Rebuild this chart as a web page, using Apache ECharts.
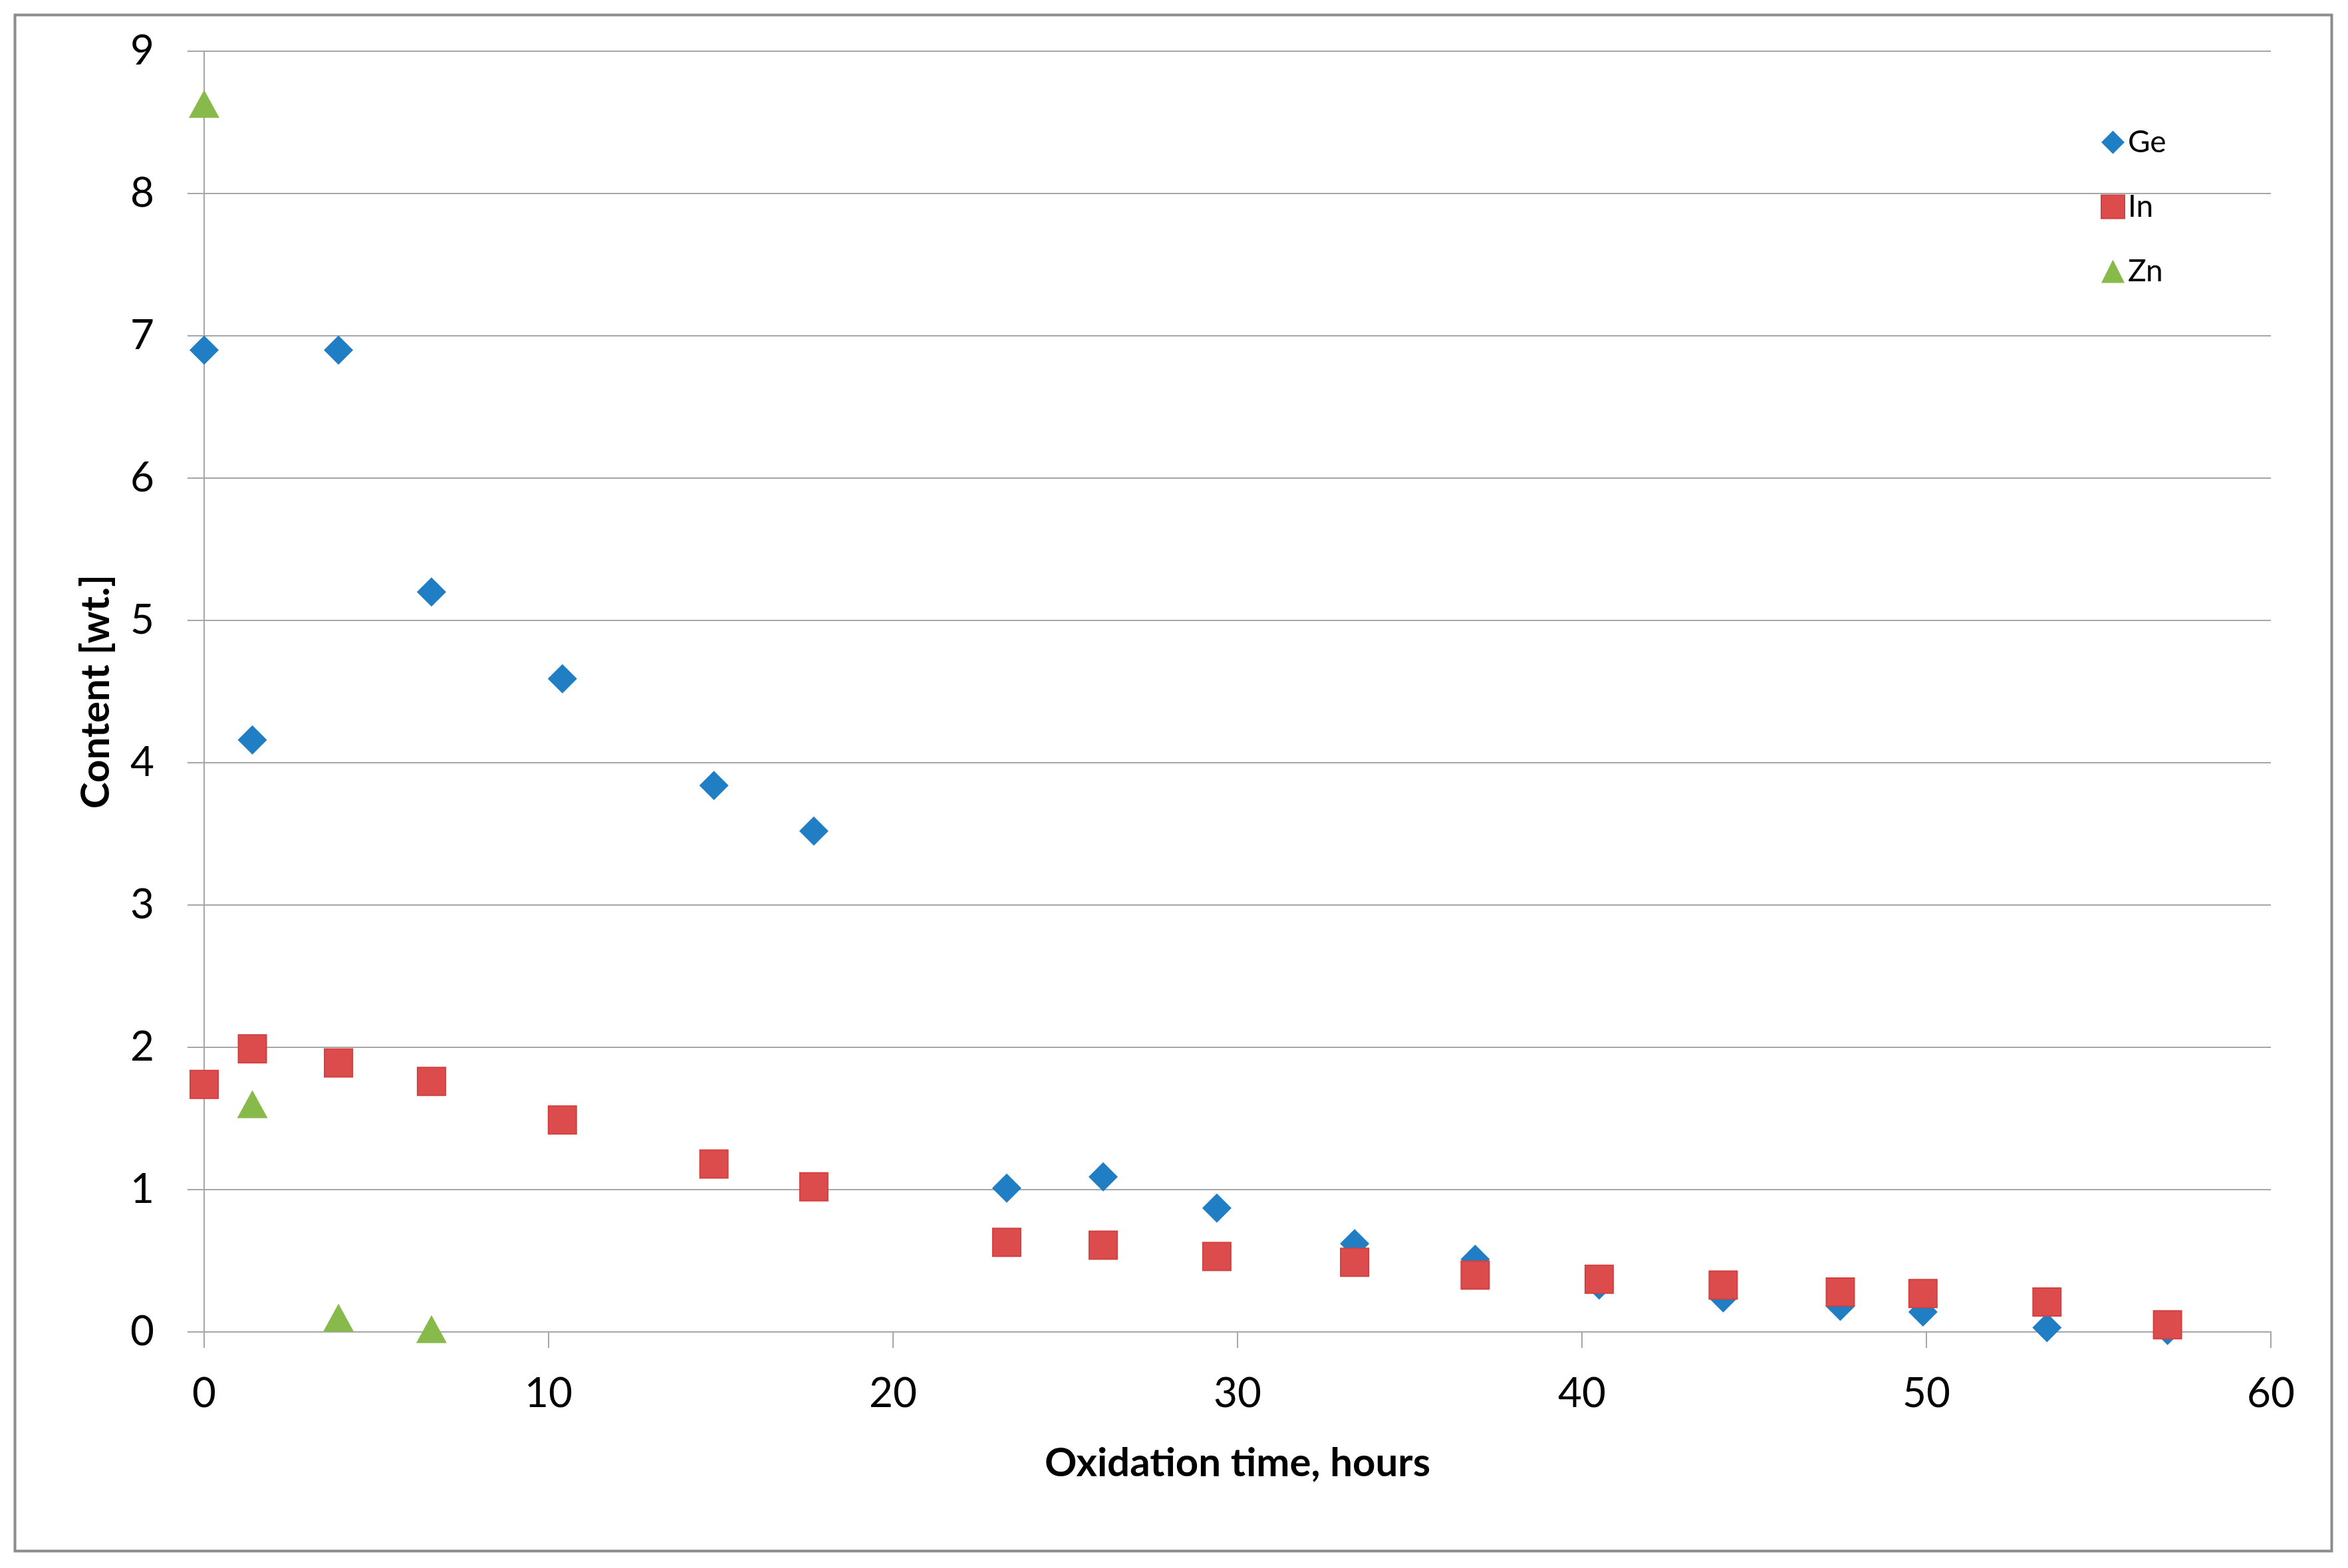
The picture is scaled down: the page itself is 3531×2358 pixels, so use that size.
<!DOCTYPE html>
<html>
<head>
<meta charset="utf-8">
<script src="https://cdn.jsdelivr.net/npm/echarts@6/dist/echarts.min.js"></script>
<style>
html,body{margin:0;padding:0;background:#fff;}
#c{width:3531px;height:2358px;}
</style>
</head>
<body>
<div id="c"></div>
<script>
// Oxidation time, hours
const timeHours = [0, 1.4, 3.9, 6.6, 10.4, 14.8, 17.7, 23.3, 26.1, 29.4, 33.4, 36.9, 40.5, 44.1, 47.5, 49.9, 53.5, 57.0];
const geValues = [6.9, 4.16, 6.9, 5.2, 4.59, 3.84, 3.52, 1.01, 1.09, 0.87, 0.62, 0.51, 0.33, 0.24, 0.18, 0.14, 0.03, 0.01];
const inValues = [1.74, 1.99, 1.89, 1.76, 1.49, 1.18, 1.02, 0.63, 0.61, 0.53, 0.49, 0.40, 0.37, 0.33, 0.28, 0.27, 0.21, 0.05];
const znTimes = [0, 1.4, 3.9, 6.6];
const znValues = [8.63, 1.6, 0.1, 0.02];
const xTicks = [0, 10, 20, 30, 40, 50, 60];
const yTicks = [0, 1, 2, 3, 4, 5, 6, 7, 8, 9];

const pairs = (xs, ys) => xs.map((x, i) => [x, ys[i]]);

const FONT = 'Lato';
const GRID = '#a6a6a6';

const chart = echarts.init(document.getElementById('c'), null, {renderer: 'canvas'});
chart.setOption({
  backgroundColor: '#ffffff',
  animation: false,
  graphic: [{
    type: 'rect',
    left: 20, top: 20,
    shape: {width: 3484, height: 2310},
    style: {fill: 'none', stroke: '#8c8c8c', lineWidth: 4},
    silent: true
  }],
  grid: {left: 307, right: 116, top: 77, bottom: 355, containLabel: false},
  legend: {
    orient: 'vertical',
    left: 3154,
    top: 186,
    itemWidth: 35,
    itemHeight: 35,
    itemGap: 51,
    textStyle: {fontFamily: FONT, fontSize: 46, color: '#000', lineHeight: 35},
    data: ['Ge', 'In', 'Zn']
  },
  xAxis: {
    type: 'value',
    min: xTicks[0], max: xTicks[xTicks.length - 1], interval: 10,
    name: 'Oxidation time, hours',
    nameLocation: 'middle',
    nameGap: 168,
    nameTextStyle: {fontFamily: FONT, fontSize: 60, fontWeight: 'bold', color: '#000'},
    axisLine: {show: true, onZero: false, lineStyle: {color: GRID, width: 2}},
    axisTick: {show: true, inside: false, length: 24, lineStyle: {color: GRID, width: 2}},
    axisLabel: {fontFamily: FONT, fontSize: 62, color: '#000', margin: 62},
    splitLine: {show: false}
  },
  yAxis: {
    type: 'value',
    min: yTicks[0], max: yTicks[yTicks.length - 1], interval: 1,
    name: 'Content [wt.]',
    nameLocation: 'middle',
    nameGap: 132,
    nameTextStyle: {fontFamily: FONT, fontSize: 60, fontWeight: 'bold', color: '#000'},
    axisLine: {show: true, onZero: false, lineStyle: {color: GRID, width: 2}},
    axisTick: {show: true, inside: false, length: 25, lineStyle: {color: GRID, width: 2}},
    axisLabel: {fontFamily: FONT, fontSize: 62, color: '#000', margin: 75},
    splitLine: {show: true, lineStyle: {color: GRID, width: 2}}
  },
  series: [
    {
      name: 'Ge', type: 'scatter', symbol: 'diamond', symbolSize: 44,
      itemStyle: {color: '#1f7ec4', opacity: 1},
      data: pairs(timeHours, geValues), z: 2
    },
    {
      name: 'In', type: 'scatter', symbol: 'rect', symbolSize: 42,
      itemStyle: {color: '#dd4c4c', borderColor: '#d24040', borderWidth: 2, opacity: 1},
      data: pairs(timeHours, inValues), z: 3
    },
    {
      name: 'Zn', type: 'scatter', symbol: 'triangle', symbolSize: [46, 42],
      itemStyle: {color: '#87b94b', opacity: 1},
      data: pairs(znTimes, znValues), z: 4
    }
  ]
});
</script>
</body>
</html>
